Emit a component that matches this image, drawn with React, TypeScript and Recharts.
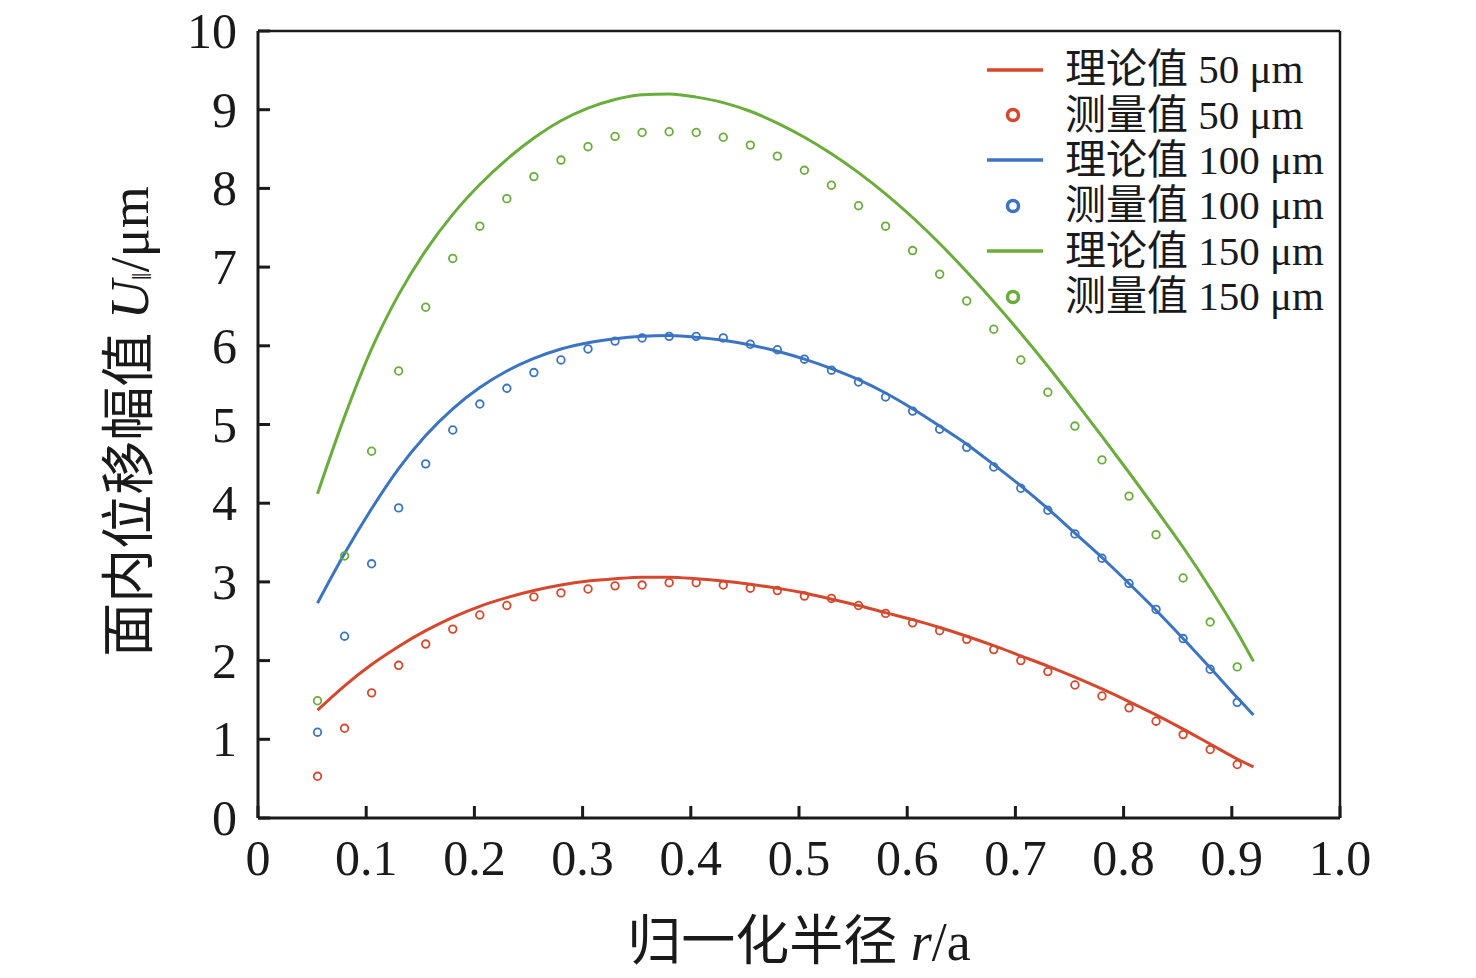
import {
  ComposedChart,
  Line,
  Scatter,
  XAxis,
  YAxis,
  Legend,
  ReferenceLine,
} from "recharts";

// 归一化半径 r/a of the measurement points
const radius = [
  0.055, 0.08, 0.105, 0.13, 0.155, 0.18, 0.205, 0.23, 0.255, 0.28, 0.305, 0.33,
  0.355, 0.38, 0.405, 0.43, 0.455, 0.48, 0.505, 0.53, 0.555, 0.58, 0.605, 0.63,
  0.655, 0.68, 0.705, 0.73, 0.755, 0.78, 0.805, 0.83, 0.855, 0.88, 0.905,
];
// theory curves run one step further
const radiusTheory = [...radius, 0.92];

// 测量值 (µm)
const measured50 = [
  0.53, 1.14, 1.59, 1.94, 2.21, 2.4, 2.58, 2.7, 2.81, 2.86, 2.91, 2.95, 2.96,
  2.99, 2.99, 2.96, 2.92, 2.89, 2.82, 2.79, 2.7, 2.6, 2.48, 2.38, 2.27, 2.14,
  2.0, 1.86, 1.69, 1.55, 1.4, 1.23, 1.06, 0.87, 0.68,
];
const measured100 = [
  1.09, 2.31, 3.23, 3.94, 4.5, 4.93, 5.26, 5.46, 5.66, 5.82, 5.96, 6.06, 6.1,
  6.12, 6.12, 6.1, 6.02, 5.95, 5.83, 5.69, 5.54, 5.35, 5.17, 4.94, 4.71, 4.46,
  4.19, 3.91, 3.61, 3.3, 2.98, 2.65, 2.28, 1.89, 1.47,
];
const measured150 = [
  1.49, 3.33, 4.66, 5.68, 6.49, 7.11, 7.52, 7.87, 8.15, 8.36, 8.53, 8.66, 8.71,
  8.72, 8.71, 8.65, 8.55, 8.41, 8.23, 8.04, 7.78, 7.52, 7.21, 6.91, 6.57, 6.21,
  5.82, 5.41, 4.98, 4.55, 4.09, 3.6, 3.05, 2.49, 1.92,
];

// 理论值 (µm)
const theory50 = [
  1.37, 1.68, 1.95, 2.18, 2.38, 2.55, 2.69, 2.8, 2.89, 2.96, 3.01, 3.04, 3.06,
  3.06, 3.04, 3.01, 2.97, 2.92, 2.86, 2.78, 2.7, 2.61, 2.52, 2.42, 2.31, 2.19,
  2.06, 1.93, 1.79, 1.64, 1.48, 1.31, 1.13, 0.94, 0.75, 0.65,
];
const theory100 = [
  2.73, 3.36, 3.93, 4.44, 4.86, 5.2, 5.47, 5.68, 5.84, 5.96, 6.04, 6.09, 6.12,
  6.13, 6.11, 6.07, 6.01, 5.93, 5.83, 5.71, 5.57, 5.4, 5.2, 4.98, 4.75, 4.49,
  4.22, 3.93, 3.62, 3.31, 2.98, 2.64, 2.28, 1.91, 1.53, 1.31,
];
const theory150 = [
  4.12, 5.1, 5.96, 6.65, 7.21, 7.67, 8.05, 8.37, 8.64, 8.86, 9.02, 9.13, 9.19,
  9.2, 9.16, 9.09, 8.98, 8.83, 8.65, 8.44, 8.2, 7.93, 7.63, 7.3, 6.94, 6.56,
  6.16, 5.74, 5.3, 4.85, 4.39, 3.92, 3.44, 2.92, 2.36, 1.99,
];

const xTicks = [0, 0.1, 0.2, 0.3, 0.4, 0.5, 0.6, 0.7, 0.8, 0.9, 1.0];
const yTicks = [0, 1, 2, 3, 4, 5, 6, 7, 8, 9, 10];

const RED = "#d6482d";
const BLUE = "#3a74c2";
const GREEN = "#6aad3b";
const INK = "#1a1a1a";
const FONT = "'Liberation Serif', 'Noto Sans CJK SC', serif";

const legendItems = [
  { kind: "line", color: RED, label: "理论值 50 μm" },
  { kind: "dot", color: RED, label: "测量值 50 μm" },
  { kind: "line", color: BLUE, label: "理论值 100 μm" },
  { kind: "dot", color: BLUE, label: "测量值 100 μm" },
  { kind: "line", color: GREEN, label: "理论值 150 μm" },
  { kind: "dot", color: GREEN, label: "测量值 150 μm" },
];

const theoryData = radiusTheory.map((r, i) => ({
  r,
  t50: theory50[i],
  t100: theory100[i],
  t150: theory150[i],
}));
const points50 = radius.map((r, i) => ({ r, v: measured50[i] }));
const points100 = radius.map((r, i) => ({ r, v: measured100[i] }));
const points150 = radius.map((r, i) => ({ r, v: measured150[i] }));

const XTick = ({ x, y, payload }: any) => (
  <g>
    <line x1={x} x2={x} y1={y} y2={y - 12} stroke={INK} strokeWidth={3} />
    <text
      x={x}
      y={y + 57}
      textAnchor="middle"
      fontSize={50}
      fontFamily={FONT}
      fill={INK}
    >
      {payload.value === 0 ? "0" : payload.value.toFixed(1)}
    </text>
  </g>
);

const YTick = ({ x, y, payload }: any) => (
  <g>
    <line x1={x} x2={x + 12} y1={y} y2={y} stroke={INK} strokeWidth={3} />
    <text
      x={x - 21}
      y={y + 17}
      textAnchor="end"
      fontSize={50}
      fontFamily={FONT}
      fill={INK}
    >
      {payload.value}
    </text>
  </g>
);

const XTitle = ({ viewBox }: any) => (
  <text
    x={viewBox.x + viewBox.width / 2}
    y={viewBox.y + 142}
    textAnchor="middle"
    fontSize={54}
    fontFamily={FONT}
    fill={INK}
  >
    归一化半径 <tspan fontStyle="italic">r</tspan>/a
  </text>
);

const YTitle = ({ viewBox }: any) => {
  const cx = viewBox.x + 130;
  const cy = viewBox.y + viewBox.height / 2 - 3;
  return (
    <text
      x={cx}
      y={cy}
      transform={`rotate(-90 ${cx} ${cy})`}
      textAnchor="middle"
      dominantBaseline="central"
      fontSize={54}
      fontFamily={FONT}
      fill={INK}
    >
      面内位移幅值 <tspan fontStyle="italic">U</tspan>
      <tspan fontSize={28} dy={11}>
        ‖
      </tspan>
      <tspan dy={-11}>/μm</tspan>
    </text>
  );
};

const Ring = (color: string, r: number, w: number) => (props: any) => {
  if (props.cx == null || props.cy == null) return <g />;
  return (
    <circle
      cx={props.cx}
      cy={props.cy}
      r={r}
      fill="none"
      stroke={color}
      strokeWidth={w}
    />
  );
};

const LegendBox = () => (
  <div style={{ fontFamily: FONT, fontSize: 41, color: INK, lineHeight: 1 }}>
    {legendItems.map((item) => (
      <div
        key={item.label}
        style={{ display: "flex", alignItems: "center", height: 45.4 }}
      >
        <svg width={80} height={30} style={{ display: "block" }}>
          {item.kind === "line" ? (
            <line
              x1={2}
              x2={58}
              y1={15}
              y2={15}
              stroke={item.color}
              strokeWidth={3.5}
            />
          ) : (
            <circle
              cx={28}
              cy={15}
              r={5.5}
              fill="none"
              stroke={item.color}
              strokeWidth={3.5}
            />
          )}
        </svg>
        <span style={{ whiteSpace: "nowrap" }}>{item.label}</span>
      </div>
    ))}
  </div>
);

export default function App() {
  return (
    <div
      style={{
        position: "absolute",
        left: 0,
        top: 0,
        width: 1476,
        height: 978,
        background: "#fff",
      }}
    >
      <ComposedChart
        width={1476}
        height={978}
        data={theoryData}
        margin={{ top: 31, right: 136, bottom: 0, left: 0 }}
      >
        <XAxis
          dataKey="r"
          type="number"
          domain={[0, 1]}
          ticks={xTicks}
          interval={0}
          allowDataOverflow
          height={160}
          tickSize={0}
          tickMargin={0}
          tickLine={false}
          axisLine={{ stroke: INK, strokeWidth: 3 }}
          tick={<XTick />}
          label={<XTitle />}
        />
        <YAxis
          type="number"
          domain={[0, 10]}
          ticks={yTicks}
          interval={0}
          allowDataOverflow
          width={258}
          tickSize={0}
          tickMargin={0}
          tickLine={false}
          axisLine={{ stroke: INK, strokeWidth: 3 }}
          tick={<YTick />}
          label={<YTitle />}
        />
        <ReferenceLine y={10} stroke={INK} strokeWidth={2.5} />
        <ReferenceLine x={1} stroke={INK} strokeWidth={2.5} />
        <Legend
          layout="vertical"
          align="center"
          verticalAlign="middle"
          wrapperStyle={{ top: 47, left: 985, width: "auto" }}
          content={<LegendBox />}
        />
        <Line
          dataKey="t50"
          type="monotone"
          stroke={RED}
          strokeWidth={3}
          dot={false}
          isAnimationActive={false}
        />
        <Line
          dataKey="t100"
          type="monotone"
          stroke={BLUE}
          strokeWidth={3}
          dot={false}
          isAnimationActive={false}
        />
        <Line
          dataKey="t150"
          type="monotone"
          stroke={GREEN}
          strokeWidth={3}
          dot={false}
          isAnimationActive={false}
        />
        <Scatter
          data={points50}
          dataKey="v"
          shape={Ring(RED, 3.8, 1.8)}
          isAnimationActive={false}
        />
        <Scatter
          data={points100}
          dataKey="v"
          shape={Ring(BLUE, 3.8, 1.8)}
          isAnimationActive={false}
        />
        <Scatter
          data={points150}
          dataKey="v"
          shape={Ring(GREEN, 3.8, 1.8)}
          isAnimationActive={false}
        />
      </ComposedChart>
    </div>
  );
}
